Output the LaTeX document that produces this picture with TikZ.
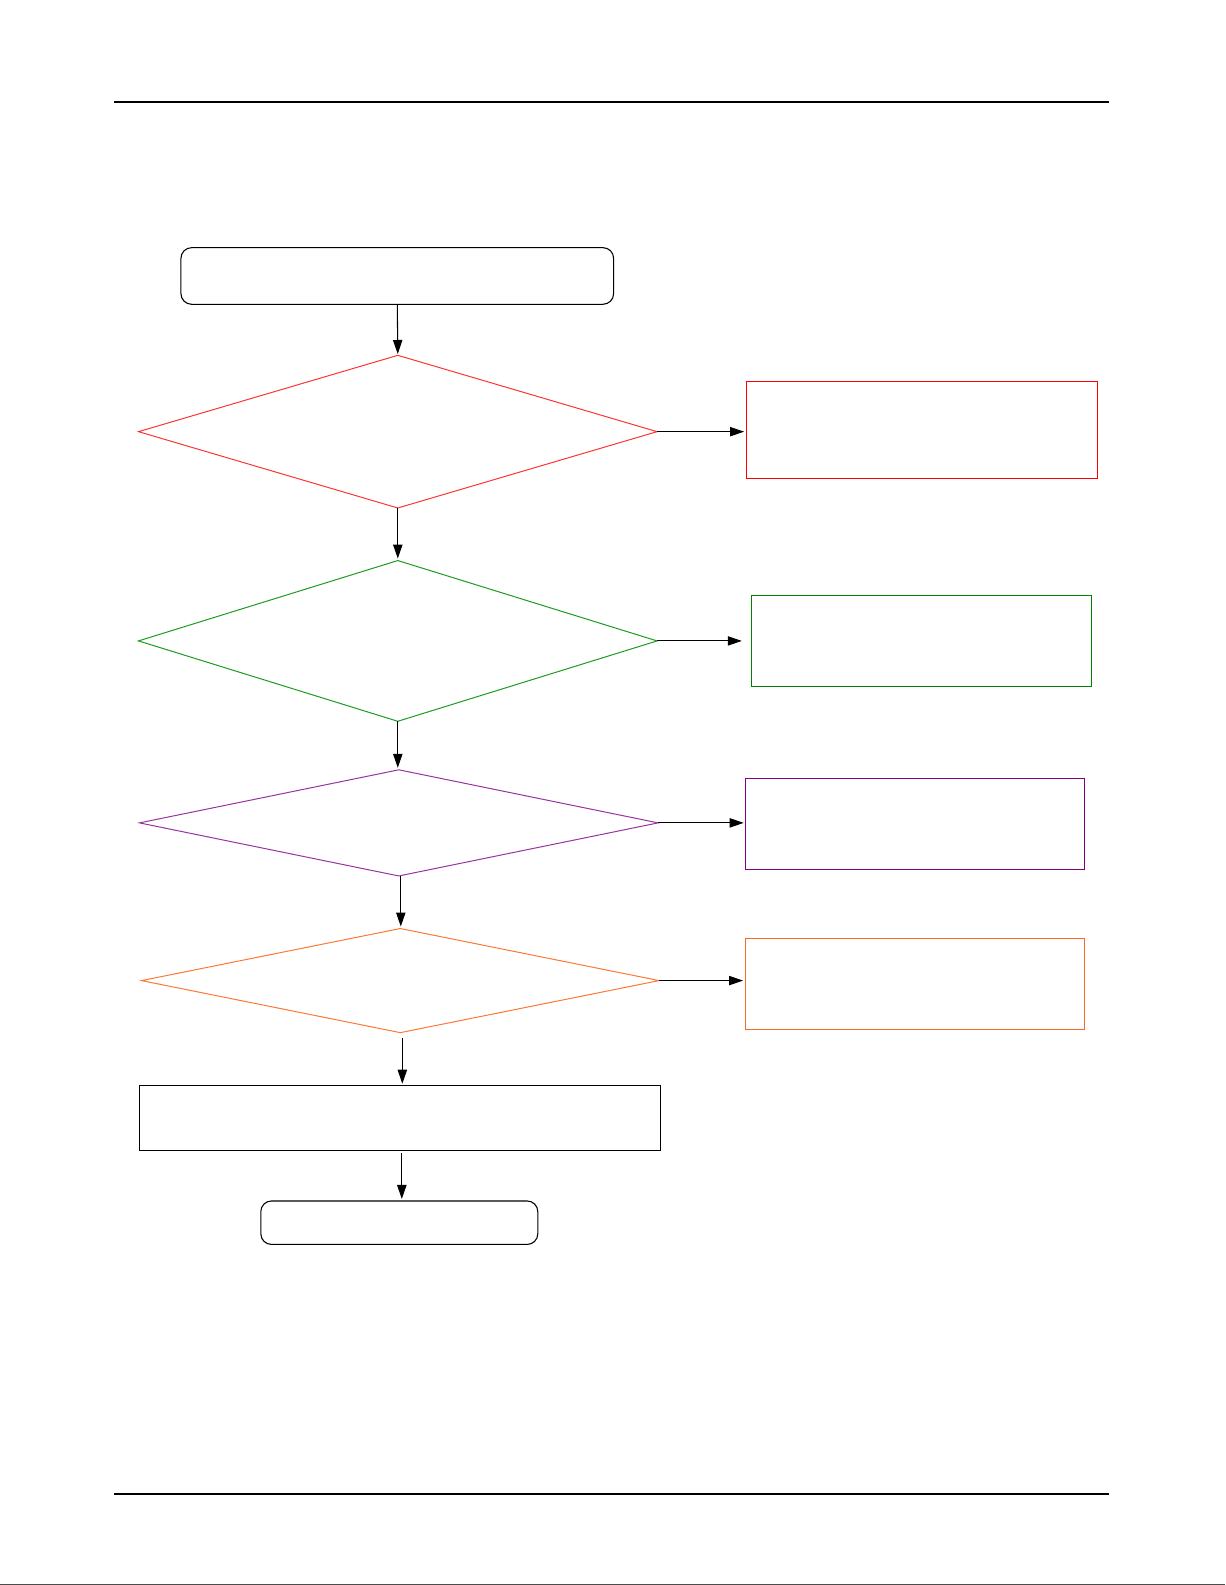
\documentclass[tikz,border=0pt]{standalone}
\usetikzlibrary{shapes.geometric,arrows.meta}
\definecolor{cred}{HTML}{FF3333}
\definecolor{cboxred}{HTML}{FF0000}
\definecolor{cgreen}{HTML}{1E9A1E}
\definecolor{cboxgreen}{HTML}{008000}
\definecolor{cpurple}{HTML}{9933A0}
\definecolor{cboxpurple}{HTML}{800080}
\definecolor{corange}{HTML}{FF7733}
\definecolor{cboxorange}{HTML}{FF6622}
\def\pxu{0.7582pt}
\begin{document}
\begin{tikzpicture}[x=\pxu,y=-\pxu,
  every node/.style={inner sep=0pt,outer sep=0pt},
  flow/.style={draw=black,line width=0.8pt,-{Triangle[length=10.5pt,width=7pt]}},
  dia/.style={diamond,draw,line width=0.75pt},
  rbox/.style={rectangle,draw,line width=0.8pt},
  roundbox/.style={rectangle,rounded corners=8pt,draw=black,line width=0.8pt}]
\useasboundingbox (0,0) rectangle (1211.8,1567.9);
% header and footer rules
\coordinate (h1) at (113,101);
\coordinate (h2) at (1097,101);
\coordinate (f1) at (113,1478);
\coordinate (f2) at (1097,1478);
\coordinate (e1) at (0,1567.3);
\coordinate (e2) at (1211.8,1567.3);
\draw[line width=1pt] (h1) -- (h2);
\draw[line width=1pt] (f1) -- (f2);
\draw[line width=0.6pt,black!70] (e1) -- (e2);
% start
\node[roundbox,minimum width=428*\pxu,minimum height=56*\pxu] (start) at (393,273) {};
% diamonds
\node[dia,draw=cred,minimum width=513*\pxu,minimum height=151*\pxu,aspect=3.4] (d1) at (393.5,427) {};
\node[dia,draw=cgreen,minimum width=513*\pxu,minimum height=159*\pxu,aspect=3.2] (d2) at (393.5,634) {};
\node[dia,draw=cpurple,minimum width=513*\pxu,minimum height=105*\pxu,aspect=4.9] (d3) at (394.5,814) {};
\node[dia,draw=corange,minimum width=512*\pxu,minimum height=103*\pxu,aspect=5.0] (d4) at (396,970) {};
% side boxes
\node[rbox,draw=cboxred,minimum width=348*\pxu,minimum height=96*\pxu] (b1) at (912,425) {};
\node[rbox,draw=cboxgreen,minimum width=337*\pxu,minimum height=90*\pxu] (b2) at (911.5,634) {};
\node[rbox,draw=cboxpurple,minimum width=336*\pxu,minimum height=90*\pxu] (b3) at (905,815) {};
\node[rbox,draw=cboxorange,minimum width=336*\pxu,minimum height=90*\pxu] (b4) at (905,973) {};
% bottom boxes
\node[rbox,draw=black,minimum width=515*\pxu,minimum height=64*\pxu] (act) at (395.5,1106) {};
\node[roundbox,minimum width=274*\pxu,minimum height=43*\pxu] (endn) at (395,1209.5) {};
% connector end points
\coordinate (p1) at (d1.south);
\coordinate (p2) at (d2.south);
\coordinate (p3) at ([xshift=1.5pt]d3.south);
\coordinate (p4) at ([xshift=1.5pt,yshift=-4pt]d4.south);
\coordinate (p5) at ([xshift=1.5pt,yshift=-2pt]act.south);
\coordinate (q2) at (p1 |- d2.north);
\coordinate (q3) at (p2 |- d3.north);
\coordinate (q4) at (p3 |- d4.north);
\coordinate (q5) at (p4 |- act.north);
\coordinate (q6) at (p5 |- endn.north);
% connectors
\draw[flow] (start.south) -- ([yshift=1pt]d1.north);
\draw[flow] (p1) -- ([yshift=1.5pt]q2);
\draw[flow] (p2) -- ([yshift=1.5pt]q3);
\draw[flow] (p3) -- ([yshift=1.5pt]q4);
\draw[flow] (p4) -- ([yshift=1.5pt]q5);
\draw[flow] (p5) -- ([yshift=1.5pt]q6);
\draw[flow] (d1.east) -- ([xshift=-1.5pt]b1.west |- d1.east);
\draw[flow] (d2.east) -- ([xshift=-7pt]b2.west |- d2.east);
\draw[flow] (d3.east) -- ([xshift=-1pt]b3.west |- d3.east);
\draw[flow] (d4.east) -- ([xshift=-1.5pt]b4.west |- d4.east);
\end{tikzpicture}
\end{document}
